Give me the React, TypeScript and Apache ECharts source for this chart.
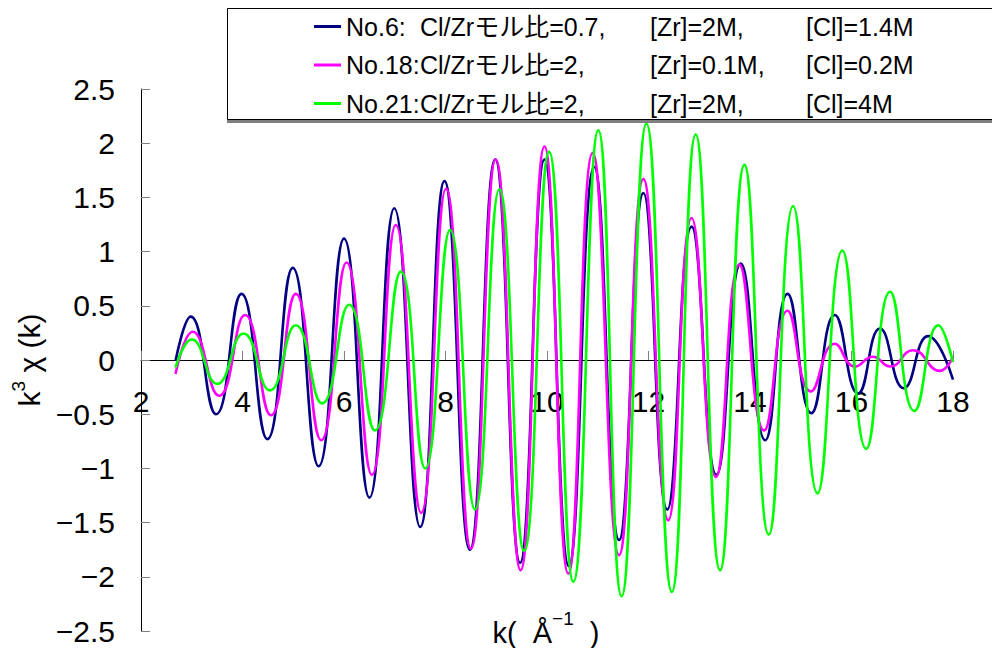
import React, { useEffect, useRef } from "react";
import * as echarts from "echarts";

// ---- data ----
const seriesNames = ["No.6", "No.18", "No.21"];
const seriesColors = ["#000080", "#FF00FF", "#00FF00"];

const kNo6 = [2.68, 2.98, 3.48, 3.98, 4.49, 4.99, 5.5, 6.0, 6.5, 6.99, 7.5, 7.98, 8.48, 8.98, 9.47, 9.95, 10.43, 10.93, 11.42, 11.9, 12.37, 12.85, 13.34, 13.82, 14.3, 14.74, 15.21, 15.67, 16.13, 16.56, 17.03, 17.51, 18.0];
const yNo6 = [-0.01, 0.4, -0.5, 0.61, -0.73, 0.85, -0.98, 1.12, -1.27, 1.4, -1.54, 1.65, -1.75, 1.85, -1.87, 1.85, -1.9, 1.78, -1.66, 1.54, -1.38, 1.23, -1.06, 0.89, -0.74, 0.61, -0.49, 0.415, -0.31, 0.29, -0.26, 0.22, -0.18];

const kNo18 = [2.68, 3.02, 3.54, 4.05, 4.56, 5.05, 5.55, 6.05, 6.55, 7.02, 7.52, 8.01, 8.5, 8.99, 9.48, 9.95, 10.42, 10.9, 11.42, 11.9, 12.39, 12.85, 13.33, 13.79, 14.28, 14.74, 15.2, 15.67, 16.07, 16.42, 16.76, 17.21, 17.74, 18.0];
const yNo18 = [-0.13, 0.26, -0.33, 0.415, -0.51, 0.61, -0.74, 0.9, -1.06, 1.245, -1.41, 1.58, -1.74, 1.85, -1.94, 1.97, -1.97, 1.91, -1.8, 1.67, -1.48, 1.31, -1.08, 0.88, -0.65, 0.455, -0.29, 0.15, -0.06, 0.03, -0.06, 0.09, -0.1, 0.03];

const kNo21 = [2.68, 3.0, 3.5, 4.02, 4.54, 5.05, 5.57, 6.1, 6.61, 7.12, 7.6, 8.09, 8.58, 9.06, 9.55, 10.04, 10.52, 11.01, 11.47, 11.96, 12.46, 12.93, 13.41, 13.89, 14.37, 14.85, 15.33, 15.82, 16.29, 16.76, 17.24, 17.71, 18.0];
const yNo21 = [-0.07, 0.19, -0.22, 0.245, -0.28, 0.32, -0.4, 0.51, -0.65, 0.815, -1.0, 1.2, -1.38, 1.575, -1.76, 1.92, -2.045, 2.12, -2.18, 2.18, -2.14, 2.08, -1.94, 1.8, -1.61, 1.42, -1.23, 1.01, -0.82, 0.63, -0.47, 0.32, -0.02];

const legendNo = ["No.6:", "No.18:", "No.21:"];
const legendRatio = ["Cl/Zrモル比=0.7,", "Cl/Zrモル比=2,", "Cl/Zrモル比=2,"];
const legendZr = ["[Zr]=2M,", "[Zr]=0.1M,", "[Zr]=2M,"];
const legendCl = ["[Cl]=1.4M", "[Cl]=0.2M", "[Cl]=4M"];

const xMin = 2, xMax = 18, xStep = 2;
const yMin = -2.5, yMax = 2.5, yStep = 0.5;

const NUM_FONT = "'Liberation Sans', Arial, sans-serif";
const LEG_FONT = "'Liberation Sans', 'Noto Sans CJK JP', sans-serif";

const W = 992, H = 648;
const GRID = { left: 141, right: 39, top: 89, bottom: 17 };

function pairs(k: number[], y: number[]) {
  return k.map((kv, i) => [kv, y[i]]);
}

export default function App() {
  const ref = useRef<HTMLDivElement>(null);
  useEffect(() => {
    if (!ref.current) return;
    const chart = echarts.init(ref.current, undefined, { renderer: "svg" });
    const allK = [kNo6, kNo18, kNo21];
    const allY = [yNo6, yNo18, yNo21];
    const gridH = H - GRID.top - GRID.bottom;
    const zeroOffset = -gridH * ((0 - yMin) / (yMax - yMin));
    const legRich = {
      a: { width: 74, fontSize: 25, fontFamily: LEG_FONT, color: "#000" },
      b: { width: 230, fontSize: 25, fontFamily: LEG_FONT, color: "#000" },
      c: { width: 156, fontSize: 25, fontFamily: LEG_FONT, color: "#000" },
      d: { fontSize: 25, fontFamily: LEG_FONT, color: "#000" },
    };
    chart.setOption({
      animation: false,
      backgroundColor: "#fff",
      grid: { ...GRID, containLabel: false, outerBoundsMode: "none" },
      xAxis: {
        type: "value",
        min: xMin,
        max: xMax,
        interval: xStep,
        offset: zeroOffset,
        axisLine: { onZero: false, lineStyle: { color: "#000", width: 1 } },
        axisTick: { inside: true, length: 9, lineStyle: { color: "#808080" } },
        axisLabel: { margin: 26, fontSize: 30, color: "#000", fontFamily: NUM_FONT },
        splitLine: { show: false },
      },
      yAxis: {
        type: "value",
        min: yMin,
        max: yMax,
        interval: yStep,
        name: "{k|k}{s|3}{k| χ (k)}",
        nameLocation: "middle",
        nameRotate: 90,
        nameGap: 92,
        nameTextStyle: {
          rich: {
            k: { fontSize: 30, lineHeight: 36, verticalAlign: "bottom", fontFamily: NUM_FONT, color: "#000" },
            s: { fontSize: 19, lineHeight: 36, verticalAlign: "top", fontFamily: NUM_FONT, color: "#000" },
          },
        },
        axisLine: { show: true, lineStyle: { color: "#000", width: 1 } },
        axisTick: { show: true, inside: true, length: 9, lineStyle: { color: "#808080" } },
        axisLabel: {
          margin: 26,
          fontSize: 30,
          color: "#000",
          fontFamily: NUM_FONT,
          formatter: (v: number) => (v < 0 ? "\u2212" + Math.abs(v) : String(v)),
        },
        splitLine: { show: false },
      },
      legend: {
        show: true,
        orient: "vertical",
        left: 309,
        top: 9,
        itemGap: 13.5,
        itemWidth: 27,
        itemHeight: 3,
        icon: "rect",
        z: 20,
        data: seriesNames,
        formatter: (name: string) => {
          const i = seriesNames.indexOf(name);
          return `{a|${legendNo[i]}}{b|${legendRatio[i]}}{c|${legendZr[i]}}{d|${legendCl[i]}}`;
        },
        textStyle: { fontSize: 25, fontFamily: LEG_FONT, color: "#000", rich: legRich },
      },
      graphic: [
        {
          type: "rect",
          z: 10,
          shape: { x: 227.5, y: 8.5, width: 800, height: 111 },
          style: { fill: "#fff", stroke: "#000", lineWidth: 1 },
        },
        {
          type: "line",
          z: 10,
          shape: { x1: 227, y1: 121.5, x2: 992, y2: 121.5 },
          style: { stroke: "#808080", lineWidth: 3 },
        },
        {
          type: "text",
          z: 10,
          x: 546,
          y: 628,
          style: {
            text: "{a|k(  Å}{s|\u22121}{a|  )}",
            align: "center",
            verticalAlign: "middle",
            rich: {
              a: { fontSize: 29, lineHeight: 38, verticalAlign: "bottom", fontFamily: NUM_FONT, fill: "#000" },
              s: { fontSize: 19, lineHeight: 38, verticalAlign: "top", fontFamily: NUM_FONT, fill: "#000" },
            },
          },
        },
      ],
      series: seriesNames.map((n, i) => ({
        name: n,
        type: "line",
        data: pairs(allK[i], allY[i]),
        smooth: 0.5,
        showSymbol: false,
        symbol: "none",
        lineStyle: { color: seriesColors[i], width: 2.6 },
        itemStyle: { color: seriesColors[i] },
        z: 2 + i,
      })),
    });
    return () => chart.dispose();
  }, []);
  return <div ref={ref} style={{ width: W, height: H, position: "absolute", left: 0, top: 0 }} />;
}
